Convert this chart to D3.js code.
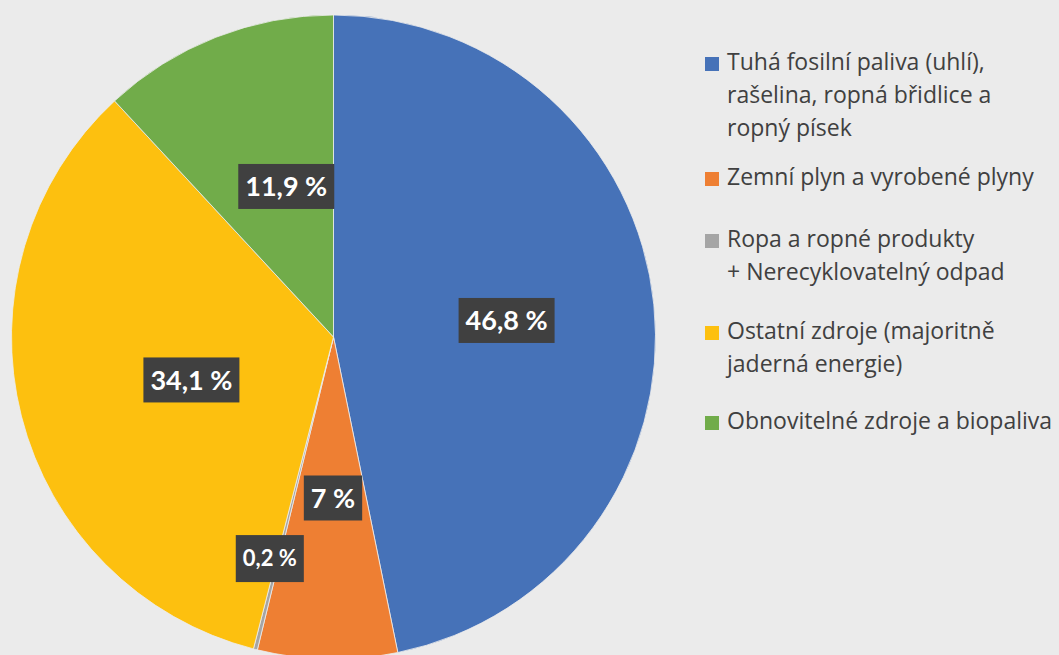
<!DOCTYPE html>
<html>
<head>
<meta charset="utf-8">
<script src="https://cdn.jsdelivr.net/npm/d3@7"></script>
<style>
  html, body { margin: 0; padding: 0; background: #ebebeb; }
  svg { display: block; }
</style>
</head>
<body>
<div id="chart"></div>
<script>
// Data
const categories = [
  'Tuhá fosilní paliva (uhlí), rašelina, ropná břidlice a ropný písek',
  'Zemní plyn a vyrobené plyny',
  'Ropa a ropné produkty + Nerecyklovatelný odpad',
  'Ostatní zdroje (majoritně jaderná energie)',
  'Obnovitelné zdroje a biopaliva'
];
const shares = [46.8, 7, 0.2, 34.1, 11.9];
const valueLabels = ['46,8 %', '7 %', '0,2 %', '34,1 %', '11,9 %'];
const legendLines = [
  ['Tuhá fosilní paliva (uhlí),', 'rašelina, ropná břidlice a', 'ropný písek'],
  ['Zemní plyn a vyrobené plyny'],
  ['Ropa a ropné produkty', '+ Nerecyklovatelný odpad'],
  ['Ostatní zdroje (majoritně', 'jaderná energie)'],
  ['Obnovitelné zdroje a biopaliva']
];
const colors = ['#4672b8', '#ee7f33', '#a5a5a5', '#fdc00f', '#71ac4a'];

// Layout
const width = 1059;
const height = 655;
const cx = 333.5, cy = 337, radius = 322;

// where each data label sits: fraction of radius, angle nudge (deg), font size
const labelPlace = [[0.54, 0.3], [0.5, -0.9], [0.716, 2], [0.461, -2.6], [0.49, 4]];
const labelFont = [27, 27, 22, 27, 27];

const svg = d3.select('#chart')
  .append('svg')
  .attr('width', width)
  .attr('height', height)
  .attr('viewBox', [0, 0, width, height]);

svg.append('rect')
  .attr('width', width)
  .attr('height', height)
  .attr('fill', '#ebebeb');

const pie = d3.pie().sort(null).value(d => d);
const arcs = pie(shares);
const arc = d3.arc().innerRadius(0).outerRadius(radius);

const g = svg.append('g').attr('transform', `translate(${cx},${cy})`);

g.selectAll('path.slice')
  .data(arcs)
  .join('path')
  .attr('class', 'slice')
  .attr('d', arc)
  .attr('fill', (d, i) => colors[i])
  .attr('stroke', '#eeeeee')
  .attr('stroke-width', 0.8);

// Data labels (dark boxes with white text)
const labels = g.selectAll('g.lbl')
  .data(arcs)
  .join('g')
  .attr('class', 'lbl')
  .attr('transform', (d, i) => {
    const [f, nudge] = labelPlace[i];
    const a = (d.startAngle + d.endAngle) / 2 + nudge * Math.PI / 180;
    const r = radius * f;
    return `translate(${r * Math.sin(a)},${-r * Math.cos(a)})`;
  });

const rects = labels.append('rect').attr('fill', '#404040');

const texts = labels.append('text')
  .attr('text-anchor', 'middle')
  .attr('dy', '0.36em')
  .attr('fill', '#ffffff')
  .style('font-family', 'Lato, "Open Sans", sans-serif')
  .style('font-weight', 'bold')
  .style('font-size', (d, i) => labelFont[i] + 'px')
  .text((d, i) => valueLabels[i]);

texts.each(function(d, i) {
  const w = this.getComputedTextLength();
  const h = i === 2 ? 47 : 45;
  d3.select(rects.nodes()[i])
    .attr('x', -w / 2 - 7)
    .attr('y', -h / 2)
    .attr('width', w + 14)
    .attr('height', h);
});

// Legend
const legendX = 705;
const baselines = [70, 185, 247, 339, 429];
const lineGap = 33;

const legend = svg.append('g')
  .style('font-family', '"Open Sans", Lato, sans-serif')
  .style('font-size', '23px')
  .attr('fill', '#404040');

legendLines.forEach((lines, i) => {
  const y0 = baselines[i];
  legend.append('rect')
    .attr('x', legendX)
    .attr('y', y0 - 13)
    .attr('width', 14)
    .attr('height', 14)
    .attr('fill', colors[i]);
  const t = legend.append('text')
    .attr('x', legendX + 22)
    .attr('y', y0);
  lines.forEach((ln, j) => {
    t.append('tspan')
      .attr('x', legendX + 22)
      .attr('y', y0 + j * lineGap)
      .text(ln);
  });
});
</script>
</body>
</html>
